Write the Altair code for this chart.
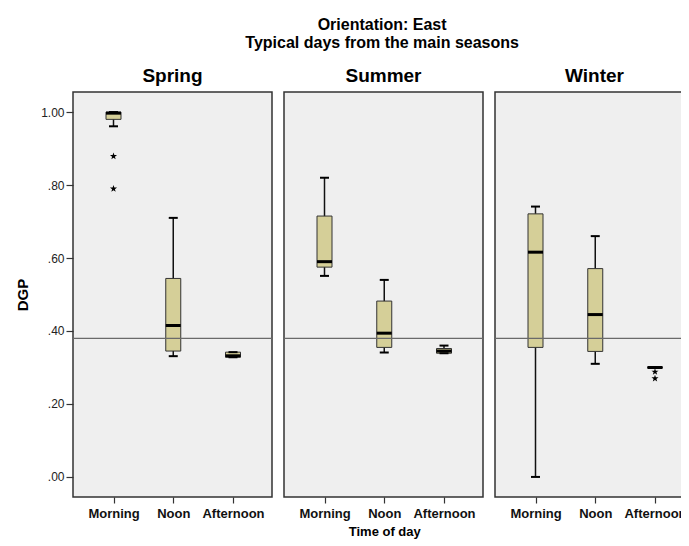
import altair as alt
import pandas as pd

seasons = ["Spring", "Summer", "Winter"]
times = ["Morning", "Noon", "Afternoon"]

# per season: values for Morning, Noon, Afternoon
whisker_low = {"Spring": [0.961, 0.331, 0.328], "Summer": [0.551, 0.341, 0.339], "Winter": [0.000, 0.310, 0.300]}
q1 = {"Spring": [0.980, 0.345, 0.328], "Summer": [0.575, 0.355, 0.339], "Winter": [0.355, 0.344, 0.299]}
median = {"Spring": [0.997, 0.415, 0.332], "Summer": [0.590, 0.394, 0.345], "Winter": [0.616, 0.445, 0.300]}
q3 = {"Spring": [1.000, 0.544, 0.342], "Summer": [0.715, 0.482, 0.352], "Winter": [0.721, 0.571, 0.301]}
whisker_high = {"Spring": [1.000, 0.710, 0.342], "Summer": [0.820, 0.540, 0.360], "Winter": [0.741, 0.660, 0.300]}

outlier_season = ["Spring", "Spring", "Winter", "Winter"]
outlier_time = ["Morning", "Morning", "Afternoon", "Afternoon"]
outlier_value = [0.879, 0.790, 0.288, 0.270]

reference_value = [0.38]
y_ticks = [0.0, 0.2, 0.4, 0.6, 0.8, 1.0]

rows = []
for s in seasons:
    for i, t in enumerate(times):
        rows.append({"season": s, "time": t, "lo": whisker_low[s][i], "q1": q1[s][i],
                     "med": median[s][i], "q3": q3[s][i], "hi": whisker_high[s][i]})
stats = pd.DataFrame(rows)
outl = pd.DataFrame({"season": outlier_season, "time": outlier_time, "v": outlier_value})
ref = pd.DataFrame({"r": reference_value})

STAR = "M0,-1L0.235,-0.324L0.951,-0.309L0.38,0.124L0.588,0.809L0,0.4L-0.588,0.809L-0.38,0.124L-0.951,-0.309L-0.235,-0.324Z"
FILL = "#d5cf98"


def panel(season, first, middle):
    d = stats[stats.season == season]
    o = outl[outl.season == season]
    xs = alt.Scale(type="point", domain=times, range=[40.5, 160], padding=0)
    xaxis = alt.Axis(title="Time of day" if middle else None, labelAngle=0)
    x = alt.X("time:N", scale=xs, axis=xaxis, sort=times)
    ys = alt.Scale(domain=[-0.055, 1.055], nice=False, zero=False)
    if first:
        yaxis = alt.Axis(title="DGP", values=y_ticks,
                         labelExpr="replace(format(datum.value, '.2f'), '0.', '.')")
    else:
        yaxis = None
    base = alt.Chart(d)
    whisk = base.mark_rule(color="#111", strokeWidth=1.5).encode(
        x=x, y=alt.Y("lo:Q", scale=ys, axis=yaxis), y2="hi:Q")
    box = base.mark_bar(size=15, fill=FILL, stroke="#333", strokeWidth=1).encode(
        x=x, y=alt.Y("q1:Q", scale=ys), y2="q3:Q")
    med = base.mark_tick(size=15, thickness=3, color="#000", opacity=1).encode(
        x=x, y=alt.Y("med:Q", scale=ys))
    caplo = base.mark_tick(size=9, thickness=2, color="#000", opacity=1).encode(
        x=x, y=alt.Y("lo:Q", scale=ys))
    caphi = base.mark_tick(size=9, thickness=2, color="#000", opacity=1).encode(
        x=x, y=alt.Y("hi:Q", scale=ys))
    layers = [whisk, box, med, caplo, caphi]
    if len(o):
        stars = alt.Chart(o).mark_point(shape=STAR, filled=True, color="#000", size=55, opacity=1).encode(
            x=x, y=alt.Y("v:Q", scale=ys))
        layers.append(stars)
    refl = alt.Chart(ref).mark_rule(color="#6a6a6a", strokeWidth=1.2).encode(y=alt.Y("r:Q", scale=ys))
    layers.append(refl)
    return alt.layer(*layers).properties(
        width=199, height=405,
        title=alt.TitleParams(season, fontSize=19, fontWeight="bold", font="Liberation Sans",
                              offset=6, color="#000"))


chart = alt.hconcat(
    panel("Spring", True, False),
    panel("Summer", False, True),
    panel("Winter", False, False),
    spacing=8,
).properties(
    title=alt.TitleParams(["Orientation: East", "Typical days from the main seasons"],
                          fontSize=16, fontWeight="bold", font="Liberation Sans",
                          anchor="middle", lineHeight=18, color="#000", offset=15, dx=27),
    padding={"left": 6, "top": 9, "right": -15, "bottom": 0},
).configure_view(
    stroke="#333", strokeWidth=1.5, fill="#efefef"
).configure_axis(
    domain=False, grid=False, tickColor="#333", tickSize=7, tickWidth=1.2,
    labelFont="Liberation Sans", labelColor="#222", titleFont="Liberation Sans",
    titleColor="#000", titleFontWeight="bold",
).configure_axisY(
    labelFontSize=12, labelPadding=2, titleFontSize=15, titlePadding=10,
).configure_axisX(
    labelFontSize=13, labelFontWeight="bold", labelColor="#111", labelPadding=4,
    tickSize=6, titleFontSize=13, titlePadding=5,
)

chart.save("out.html", embed_options={"renderer": "svg", "actions": False})
